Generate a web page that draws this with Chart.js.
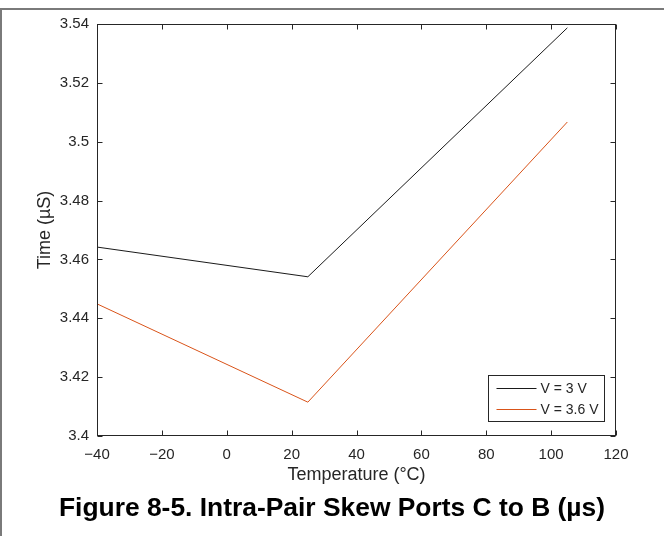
<!DOCTYPE html>
<html>
<head>
<meta charset="utf-8">
<script src="https://cdn.jsdelivr.net/npm/chart.js@4"></script>
<style>
    body { margin: 0; background: #fff; }
    #wrap { position: relative; width: 664px; height: 536px; overflow: hidden; }
    #frame {
        position: absolute; left: 0; top: 8px; width: 670px; height: 540px;
        border-top: 2px solid #7a7a7a; border-left: 2px solid #7a7a7a;
    }
    #chartbox { position: absolute; left: 0; top: 0; width: 664px; height: 536px; }
    #caption {
        position: absolute; left: 0; width: 664px; top: 492px;
        text-align: center; font: bold 26.4px "Liberation Sans", Arial, sans-serif; color: #000;
    }
</style>
</head>
<body>
<div id="wrap">
    <div id="frame"></div>
    <div id="chartbox"><canvas id="skew"></canvas></div>
    <div id="caption">Figure 8-5. Intra-Pair Skew Ports C to B (µs)</div>
</div>
<script>
// температури и измерени времена
const temps = [-40, 25, 105];
const time3V = [3.4642, 3.4541, 3.5387];
const time36V = [3.4449, 3.4115, 3.5067];
const seriesNames = ['V = 3 V', 'V = 3.6 V'];

// деления по осите
const xTicks = [-40, -20, 0, 20, 40, 60, 80, 100, 120];
const xTickLabels = ['\u221240', '\u221220', '0', '20', '40', '60', '80', '100', '120'];
const yTicks = [3.4, 3.42, 3.44, 3.46, 3.48, 3.5, 3.52, 3.54];
const yTickLabels = ['3.4', '3.42', '3.44', '3.46', '3.48', '3.5', '3.52', '3.54'];

const axisColor = '#262626';
Chart.defaults.font.family = '"Liberation Sans", Arial, sans-serif';

// рамка около графиката, вътрешни деления и легенда вътре в полето
const boxPlugin = {
    id: 'boxPlugin',
    afterDraw(chart) {
        const ctx = chart.ctx;
        const a = chart.chartArea;
        const xs = chart.scales.x, ys = chart.scales.y;
        const L = Math.round(a.left) + 0.5, R = Math.round(a.right) - 0.5;
        const T = Math.round(a.top) + 0.5, B = Math.round(a.bottom) - 0.5;
        const tl = 5;

        ctx.save();
        ctx.strokeStyle = axisColor;
        ctx.lineWidth = 1;
        ctx.strokeRect(L, T, R - L, B - T);

        ctx.beginPath();
        xTicks.forEach(v => {
            const px = Math.round(xs.getPixelForValue(v)) + 0.5;
            ctx.moveTo(px, B); ctx.lineTo(px, B - tl);
            ctx.moveTo(px, T); ctx.lineTo(px, T + tl);
        });
        yTicks.forEach(v => {
            const py = Math.round(ys.getPixelForValue(v)) + 0.5;
            ctx.moveTo(L, py); ctx.lineTo(L + tl, py);
            ctx.moveTo(R, py); ctx.lineTo(R - tl, py);
        });
        ctx.stroke();

        // легенда в долния десен ъгъл
        const lx = 488.5, ly = 375.5, lw = 116, lh = 46;
        ctx.fillStyle = '#fff';
        ctx.fillRect(lx, ly, lw, lh);
        ctx.strokeStyle = axisColor;
        ctx.strokeRect(lx, ly, lw, lh);
        ctx.font = '14px "Liberation Sans", Arial, sans-serif';
        ctx.textBaseline = 'middle';
        ctx.textAlign = 'left';
        chart.data.datasets.forEach((ds, i) => {
            const y = Math.round(ly + 12.5 + i * 20.5) + 0.5;
            ctx.strokeStyle = ds.borderColor;
            ctx.beginPath();
            ctx.moveTo(lx + 8, y); ctx.lineTo(lx + 48, y);
            ctx.stroke();
            ctx.fillStyle = axisColor;
            ctx.fillText(ds.label, lx + 52, y + 0.5);
        });
        ctx.restore();
    }
};

const toPoints = ys => temps.map((t, i) => ({ x: t, y: ys[i] }));

new Chart(document.getElementById('skew'), {
    type: 'line',
    data: {
        datasets: [
            { label: seriesNames[0], data: toPoints(time3V), borderColor: '#1a1a1a', borderWidth: 1, pointRadius: 0, tension: 0 },
            { label: seriesNames[1], data: toPoints(time36V), borderColor: '#d95319', borderWidth: 1, pointRadius: 0, tension: 0 }
        ]
    },
    options: {
        responsive: true,
        maintainAspectRatio: false,
        animation: false,
        events: [],
        layout: { padding: { left: 0, top: 24, right: 48, bottom: 0 } },
        plugins: { legend: { display: false }, tooltip: { enabled: false } },
        scales: {
            x: {
                type: 'linear',
                min: -40, max: 120,
                afterFit: s => { s.height = 100; },
                afterBuildTicks: s => { s.ticks = xTicks.map(v => ({ value: v })); },
                grid: { display: false, drawTicks: false },
                border: { display: false },
                ticks: {
                    padding: 10,
                    color: axisColor,
                    font: { size: 15 },
                    maxRotation: 0,
                    autoSkip: false,
                    callback: (v, i) => xTickLabels[i]
                },
                title: {
                    display: true,
                    text: 'Temperature (°C)',
                    color: axisColor,
                    font: { size: 18 },
                    padding: { top: 0, bottom: 50 }
                }
            },
            y: {
                min: 3.4, max: 3.54,
                afterFit: s => { s.width = 97; },
                afterBuildTicks: s => { s.ticks = yTicks.map(v => ({ value: v })); },
                grid: { display: false, drawTicks: false },
                border: { display: false },
                ticks: {
                    padding: 8,
                    color: axisColor,
                    font: { size: 15 },
                    autoSkip: false,
                    callback: (v, i) => yTickLabels[i]
                },
                title: {
                    display: true,
                    text: 'Time (µS)',
                    color: axisColor,
                    font: { size: 18 },
                    padding: { top: 34, bottom: 0 }
                }
            }
        }
    },
    plugins: [boxPlugin]
});
</script>
</body>
</html>
